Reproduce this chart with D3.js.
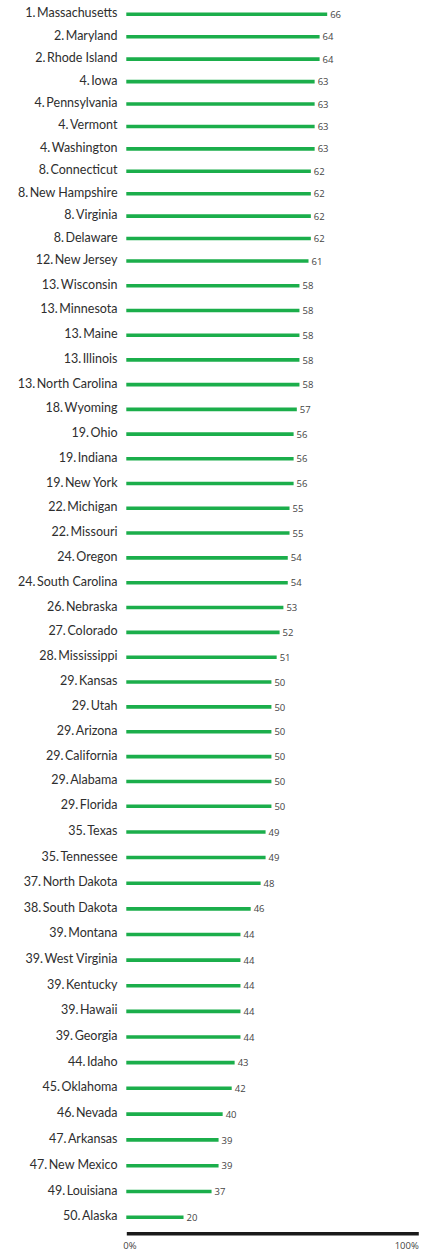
<!DOCTYPE html>
<html>
<head>
<meta charset="utf-8">
<script src="https://cdn.jsdelivr.net/npm/d3@7"></script>
<style>
    html, body { margin: 0; padding: 0; background: #fff; }
    svg { display: block; }
    .name { font-family: Lato, "Open Sans", sans-serif; font-size: 12.5px; fill: #2e2e2e; }
    .val { font-family: "Open Sans", sans-serif; font-size: 9.5px; fill: #444; }
    .axis text { font-family: "Open Sans", sans-serif; font-size: 9.5px; fill: #444; }
</style>
</head>
<body>
<svg id="chart"></svg>
<script>
const ranks = [1, 2, 2, 4, 4, 4, 4, 8, 8, 8, 8, 12, 13, 13, 13, 13, 13, 18, 19, 19, 19, 22, 22, 24, 24, 26, 27, 28, 29, 29,
    29, 29, 29, 29, 35, 35, 37, 38, 39, 39, 39, 39, 39, 44, 45, 46, 47, 47, 49, 50];
const states = ['Massachusetts', 'Maryland', 'Rhode Island', 'Iowa', 'Pennsylvania', 'Vermont', 'Washington',
    'Connecticut', 'New Hampshire', 'Virginia', 'Delaware', 'New Jersey', 'Wisconsin', 'Minnesota', 'Maine',
    'Illinois', 'North Carolina', 'Wyoming', 'Ohio', 'Indiana', 'New York', 'Michigan', 'Missouri', 'Oregon',
    'South Carolina', 'Nebraska', 'Colorado', 'Mississippi', 'Kansas', 'Utah', 'Arizona', 'California', 'Alabama',
    'Florida', 'Texas', 'Tennessee', 'North Dakota', 'South Dakota', 'Montana', 'West Virginia', 'Kentucky',
    'Hawaii', 'Georgia', 'Idaho', 'Oklahoma', 'Nevada', 'Arkansas', 'New Mexico', 'Louisiana', 'Alaska'];
// printed score next to each bar
const scores = [66, 64, 64, 63, 63, 63, 63, 62, 62, 62, 62, 61, 58, 58, 58, 58, 58, 57, 56, 56, 56, 55, 55, 54, 54,
    53, 52, 51, 50, 50, 50, 50, 50, 50, 49, 49, 48, 46, 44, 44, 44, 44, 44, 43, 42, 40, 39, 39, 37, 20];
// bar length as read against the 0%-100% axis
const barPct = [68.8, 66.2, 66.2, 64.5, 64.5, 64.5, 64.5, 63.2, 63.2, 63.2, 63.2, 62.4, 59.3, 59.3, 59.3, 59.3, 59.3,
    58.4, 57.3, 57.3, 57.3, 55.9, 55.9, 55.3, 55.3, 53.8, 52.5, 51.5, 49.7, 49.7, 49.7, 49.7, 49.7, 49.7, 47.7, 47.7,
    46.0, 42.6, 39.1, 39.1, 39.1, 39.1, 39.1, 37.1, 36.1, 33.0, 31.6, 31.6, 29.2, 19.6];
const axisTicks = [0, 100];

const width = 421;
const height = 1251;

const rows = states.map((s, i) => ({ i: i, rank: ranks[i], name: s, score: scores[i], pct: barPct[i] }));

const svg = d3.select('#chart')
    .attr('width', width)
    .attr('height', height);

const x = d3.scaleLinear()
    .domain([0, 100])
    .range([126.3, 418.3]);

// rows are not evenly spaced in the original, so a piecewise scale
const y = d3.scaleLinear()
    .domain([0, 11, 22, 33, 44, 49])
    .range([14.3, 261, 533, 806.3, 1088.3, 1217.3]);

svg.append('g')
    .selectAll('line')
    .data(rows)
    .join('line')
    .attr('x1', x(0))
    .attr('x2', d => x(d.pct))
    .attr('y1', d => y(d.i))
    .attr('y2', d => y(d.i))
    .attr('stroke', '#1bae4b')
    .attr('stroke-width', 3.6);

svg.append('g')
    .selectAll('text')
    .data(rows)
    .join('text')
    .attr('class', 'name')
    .attr('x', 117.5)
    .attr('y', d => y(d.i))
    .attr('dy', '0.24em')
    .attr('text-anchor', 'end')
    .text(d => d.rank + '.\u2009' + d.name);

svg.append('g')
    .selectAll('text')
    .data(rows)
    .join('text')
    .attr('class', 'val')
    .attr('x', d => x(d.pct) + 3)
    .attr('y', d => y(d.i))
    .attr('dy', '0.38em')
    .text(d => d.score);

const axis = svg.append('g')
    .attr('class', 'axis')
    .attr('transform', 'translate(0,1233.3)')
    .call(d3.axisBottom(x).tickValues(axisTicks).tickSize(0).tickPadding(9).tickFormat(d => d + '%'));

axis.select('.domain')
    .attr('stroke', '#1a1a1a')
    .attr('stroke-width', 3.4);

axis.selectAll('.tick text')
    .attr('fill', '#444')
    .attr('text-anchor', d => d === 0 ? 'start' : 'end')
    .attr('dx', d => d === 0 ? -3.5 : 0);
</script>
</body>
</html>
